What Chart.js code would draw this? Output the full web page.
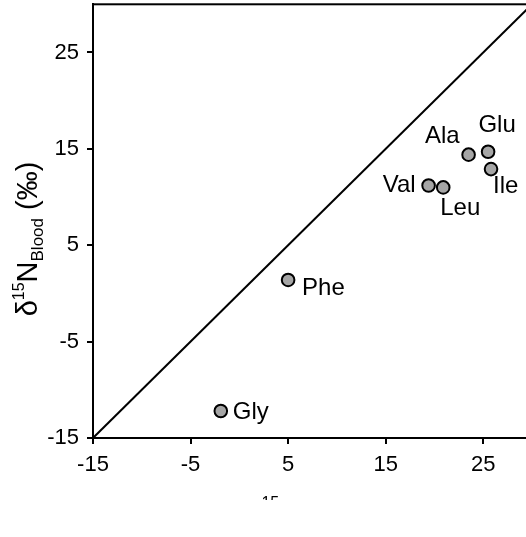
<!DOCTYPE html>
<html>
<head>
<meta charset="utf-8">
<script src="https://cdn.jsdelivr.net/npm/chart.js@4/dist/chart.umd.min.js"></script>
<style>
  html, body { margin: 0; padding: 0; background: #fff; overflow: hidden; }
  #wrap { width: 526px; height: 537px; overflow: hidden; }
  #isoChart { display: block; margin-top: -4px; }
</style>
</head>
<body>
<div id="wrap"><canvas id="isoChart" width="545" height="541"></canvas></div>
<script>
// amino acid d15N: diet (x) vs blood (y)
const aminoAcids = ['Gly', 'Phe', 'Val', 'Leu', 'Ala', 'Glu', 'Ile'];
const dietN = [-1.9, 5.0, 19.4, 20.9, 23.5, 25.5, 25.8];
const bloodN = [-12.2, 1.4, 11.2, 11.0, 14.4, 14.7, 12.9];
const xTicks = [-15, -5, 5, 15, 25];
const yTicks = [-15, -5, 5, 15, 25];
const axisRange = [-15, 30]; // also the ends of the 1:1 line

// where each name sits next to its point: [dx, dy, align]
const labelPlacement = {
    Gly: [12, 1, 'left'],
    Phe: [14, 8, 'left'],
    Val: [-13, 0, 'right'],
    Leu: [-3, 21, 'left'],
    Ala: [-9, -18, 'right'],
    Glu: [9, -26, 'center'],
    Ile: [2, 17, 'left']
};

const FONT = '"Liberation Sans", Arial, Helvetica, sans-serif';

function richText(ctx, parts, cx, baseY) {
    let total = 0;
    parts.forEach(p => {
        ctx.font = p.size + 'px ' + FONT;
        p.w = ctx.measureText(p.text).width;
        total += p.w;
    });
    let x = cx - total / 2;
    ctx.textAlign = 'left';
    ctx.textBaseline = 'alphabetic';
    parts.forEach(p => {
        ctx.font = p.size + 'px ' + FONT;
        ctx.fillText(p.text, x, baseY + p.dy);
        x += p.w;
    });
}

const pointLabels = {
    id: 'pointLabels',
    afterDatasetsDraw(chart) {
        const ctx = chart.ctx;
        const meta = chart.getDatasetMeta(1);
        ctx.save();
        ctx.fillStyle = '#000';
        ctx.font = '24px ' + FONT;
        ctx.textBaseline = 'middle';
        meta.data.forEach((el, i) => {
            const p = labelPlacement[aminoAcids[i]];
            ctx.textAlign = p[2];
            ctx.fillText(aminoAcids[i], el.x + p[0], el.y + p[1]);
        });
        ctx.restore();
    }
};

const frameAndTitles = {
    id: 'frameAndTitles',
    afterDraw(chart) {
        const ctx = chart.ctx;
        const a = chart.chartArea;
        ctx.save();
        ctx.strokeStyle = '#000';
        ctx.lineWidth = 2;
        ctx.strokeRect(a.left, a.top, a.right - a.left, a.bottom - a.top);

        ctx.fillStyle = '#000';
        // y title, rotated
        ctx.save();
        ctx.translate(37, 243);
        ctx.rotate(-Math.PI / 2);
        richText(ctx, [
            { text: 'δ', size: 29, dy: 0 },
            { text: '15', size: 16, dy: -13 },
            { text: 'N', size: 29, dy: 0 },
            { text: 'Blood', size: 17, dy: 6 },
            { text: ' (‰)', size: 29, dy: 0 }
        ], 0, 0);
        ctx.restore();

        // x title, only the top edge shows above the bottom margin
        ctx.save();
        ctx.beginPath();
        ctx.rect(0, 0, chart.width, 504);
        ctx.clip();
        richText(ctx, [
            { text: 'δ', size: 29, dy: 0 },
            { text: '15', size: 16, dy: -15 },
            { text: 'N', size: 29, dy: 0 },
            { text: 'Diet', size: 17, dy: 6 },
            { text: ' (‰)', size: 29, dy: 0 }
        ], 316, 527);
        ctx.restore();
        ctx.restore();
    }
};

const axisCommon = {
    type: 'linear',
    min: axisRange[0],
    max: axisRange[1],
    grid: { drawOnChartArea: false, tickLength: 6, color: '#000', lineWidth: 2 },
    border: { color: '#000', width: 2 },
    ticks: { color: '#000', font: { family: FONT, size: 22 }, padding: 8 }
};

function noEdgePadding(s) {
    s.paddingTop = 0;
    s.paddingBottom = 0;
    s.paddingLeft = 0;
    s.paddingRight = 0;
}

new Chart(document.getElementById('isoChart'), {
    type: 'scatter',
    data: {
        datasets: [{
            type: 'line',
            data: axisRange.map(v => ({ x: v, y: v })),
            borderColor: '#000',
            borderWidth: 2,
            pointRadius: 0,
            fill: false
        }, {
            data: dietN.map((v, i) => ({ x: v, y: bloodN[i] })),
            backgroundColor: '#a6a6a6',
            borderColor: '#000',
            borderWidth: 2,
            pointRadius: 6.3
        }]
    },
    options: {
        responsive: false,
        animation: false,
        devicePixelRatio: 1,
        layout: { padding: { top: 1, right: 13, left: 0, bottom: 0 } },
        plugins: { legend: { display: false }, tooltip: { enabled: false } },
        scales: {
            x: Object.assign({}, axisCommon, {
                afterBuildTicks: s => { s.ticks = xTicks.map(v => ({ value: v })); },
                afterFit: s => { s.height = 99; noEdgePadding(s); }
            }),
            y: Object.assign({}, axisCommon, {
                afterBuildTicks: s => { s.ticks = yTicks.map(v => ({ value: v })); },
                afterFit: s => { s.width = 93; noEdgePadding(s); }
            })
        }
    },
    plugins: [pointLabels, frameAndTitles]
});
</script>
</body>
</html>
